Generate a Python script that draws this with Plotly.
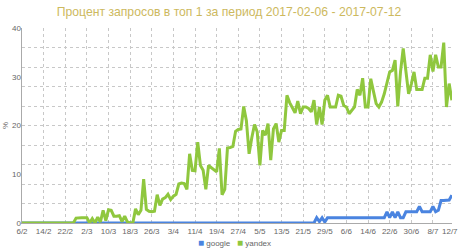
import plotly.graph_objects as go

# point index (daily samples) and tick labels
tick_idx = [0, 8, 16, 24, 32, 40, 48, 56, 64, 72, 80, 88, 96, 104, 112, 120, 128, 136, 144, 152, 159]
tick_text = ["6/2", "14/2", "22/2", "2/3", "10/3", "18/3", "26/3", "3/4", "11/4", "19/4", "27/4",
             "5/5", "13/5", "21/5", "29/5", "6/6", "14/6", "22/6", "30/6", "8/7", "12/7"]
y_tick_vals = [0, 10, 20, 30, 40]

yandex = [
    0, 0, 0, 0, 0, 0, 0, 0, 0, 0,
    0, 0, 0, 0, 0, 0, 0, 0, 0, 0,
    1.0, 1.1, 1.1, 1.1, 1.1, 0, 0.9, 0, 1.2, 0.2,
    2.6, 0.5, 2.7, 2.6, 1.4, 1.4, 1.5, 0.3, 1.4, 0.2,
    0, 0, 2.9, 1.7, 2.6, 9.0, 2.8, 2.4, 2.3, 2.4,
    5.8, 3.6, 4.9, 5.2, 5.9, 4.8, 5.5, 5.9, 8.0, 8.2,
    8.1, 6.9, 14.2, 10.8, 10.7, 16.6, 11.8, 10.8, 6.9, 11.8,
    11.3, 11.0, 10.5, 15.3, 5.8, 6.9, 15.4, 15.5, 15.7, 18.8,
    19.2, 19.3, 23.9, 21.0, 14.2, 17.5, 20.2, 18.7, 11.8, 19.0,
    18.0, 20.4, 12.9, 19.3, 20.4, 16.6, 19.0, 19.0, 26.2, 24.7,
    23.5, 22.6, 25.0, 22.4, 23.8, 23.8, 23.5, 22.8, 25.2, 20.2,
    23.8, 20.2, 25.2, 26.2, 23.8, 23.8, 23.8, 26.2, 26.0, 24.1,
    23.8, 22.4, 23.0, 23.8, 27.4, 26.2, 29.7, 23.8, 23.8, 29.6,
    27.0, 24.5, 23.8, 24.8, 26.5, 28.5, 31.0, 31.3, 33.4, 23.9,
    31.0, 35.8, 31.6, 26.5, 28.5, 31.0, 27.4, 27.4, 27.4, 29.7,
    29.7, 34.5, 31.1, 34.5, 32.0, 32.0, 37.0, 23.8, 28.6, 25.2,
]

google = [0] * 109 + [
    1.1, 0.3, 1.1, 0.2, 1.1, 1.1, 1.1, 1.1, 1.1, 1.1,
    1.1, 1.1, 1.1, 1.1, 1.1, 1.1, 1.1, 1.1, 1.1, 1.1,
    1.1, 1.1, 1.1, 1.1, 1.1, 1.1, 2.3, 1.1, 2.3, 1.1,
    2.3, 1.1, 1.1, 2.3, 2.3, 2.3, 2.3, 2.3, 3.4, 2.3,
    2.3, 2.3, 2.3, 3.4, 2.3, 2.6, 4.6, 4.6, 4.6, 4.7,
    5.7,
]

x_idx = list(range(len(yandex)))

title_text = "Процент запросов в топ 1 за период 2017-02-06 - 2017-07-12"
series_names = ["google", "yandex"]
blue = "#4a84e0"
green = "#8fc73e"

fig = go.Figure()
fig.add_trace(go.Scatter(x=x_idx, y=google, mode="lines", name=series_names[0],
                         line=dict(color=blue, width=3), showlegend=False))
fig.add_trace(go.Scatter(x=x_idx, y=yandex, mode="lines", name=series_names[1],
                         line=dict(color=green, width=3), showlegend=False))
# invisible trace to activate yaxis2 (tick labels)
fig.add_trace(go.Scatter(x=[None], y=[None], yaxis="y2", showlegend=False, hoverinfo="skip"))

# last x tick label: right-aligned so it stays inside the page
shown_text = tick_text[:-1] + [""]
fig.add_annotation(xref="x", yref="paper", x=tick_idx[-1], y=-0.046, xanchor="right",
                   yanchor="middle", xshift=7, borderpad=0, text=tick_text[-1],
                   showarrow=False, font=dict(size=8, color="#666666"))

# legend drawn as annotations with coloured squares
legend_pos = [0.405, 0.495]
for name, col, xp in zip(series_names, [blue, green], legend_pos):
    fig.add_annotation(
        xref="paper", yref="paper", x=xp, y=-0.1, xanchor="left", yanchor="middle",
        text=f'<span style="color:{col};font-size:10px">■</span> {name}',
        showarrow=False, font=dict(size=8, color="#666666"))

fig.update_layout(
    width=458, height=248,
    margin=dict(l=22, r=6, t=28, b=25, autoexpand=False),
    paper_bgcolor="white", plot_bgcolor="white",
    font=dict(family="Liberation Sans, Arial, sans-serif", size=8, color="#666666"),
    title=dict(text=title_text, x=0.5, xanchor="center", y=0.952, yanchor="middle",
               font=dict(size=12.2, color="#cdb95e")),
    showlegend=False,
    xaxis=dict(range=[0, 159.05], tickmode="array", tickvals=tick_idx, ticktext=shown_text,
               showgrid=True, gridcolor="#c8c8c8", griddash="dot", gridwidth=1,
               showline=True, linecolor="#aaaaaa", linewidth=1, zeroline=False,
               ticks="", tickfont=dict(size=8, color="#666666"), fixedrange=True),
    yaxis=dict(range=[0, 40], tickmode="linear", tick0=0, dtick=4,
               showgrid=True, gridcolor="#c8c8c8", griddash="dot", gridwidth=1,
               showticklabels=False, showline=True, linecolor="#aaaaaa", linewidth=1,
               zeroline=False, ticks=""),
    yaxis2=dict(range=[0, 40], overlaying="y", side="left", tickmode="array",
                tickvals=y_tick_vals, showgrid=False, zeroline=False,
                ticks="", tickfont=dict(size=8, color="#666666"),
                title=dict(text="%", font=dict(size=8, color="#666666"), standoff=2)),
)

fig.write_html("out.html")
